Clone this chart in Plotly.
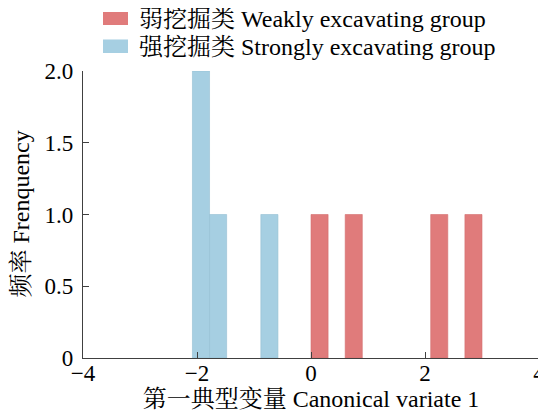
import plotly.graph_objects as go

# Histogram bins (centre, count) per group, bin width 0.3
bin_width = 0.3
weak_centers = [0.15, 0.75, 2.25, 2.85]
weak_counts = [1, 1, 1, 1]
strong_centers = [-1.93, -1.63, -0.73]
strong_counts = [2, 1, 1]

x_ticks = [-4, -2, 0, 2, 4]
x_tick_labels = ["−4", "−2", "0", "2", "4"]
y_ticks = [0, 0.5, 1.0, 1.5, 2.0]
y_tick_labels = ["0", "0.5", "1.0", "1.5", "2.0"]

weak_name = "弱挖掘类 Weakly excavating group"
strong_name = "强挖掘类 Strongly excavating group"
x_title = "第一典型变量 Canonical variate 1"
y_title = "频率 Frenquency"
weak_color = "#e07b7b"
strong_color = "#a6cfe2"

FONT = "Liberation Serif, Times New Roman, Noto Serif CJK SC, Noto Sans CJK SC, serif"

fig = go.Figure()
fig.add_trace(go.Bar(
    x=weak_centers, y=weak_counts, width=[bin_width] * len(weak_centers),
    name=weak_name,
    marker=dict(color=weak_color, line=dict(color="#d46e6e", width=0.6)),
))
fig.add_trace(go.Bar(
    x=strong_centers, y=strong_counts, width=[bin_width] * len(strong_centers),
    name=strong_name,
    marker=dict(color=strong_color, line=dict(color="#93bfd4", width=0.6)),
))

axis_common = dict(
    showline=True, linecolor="#404040", linewidth=1.2,
    ticks="inside", ticklen=6, tickwidth=1.2, tickcolor="#404040",
    showgrid=False, zeroline=False,
    tickfont=dict(family=FONT, size=23, color="black"),
)

# custom legend (patch + label) placed above the plot area
legend_items = [
    (weak_color, weak_name, 1.1603, 1.2056, 1.1800),
    (strong_color, strong_name, 1.0627, 1.1098, 1.0819),
]
shapes = []
annotations = []
for color, name, y0, y1, yt in legend_items:
    shapes.append(dict(type="rect", xref="paper", yref="paper",
                       x0=0.0439, x1=0.0987, y0=y0, y1=y1,
                       fillcolor=color, line=dict(width=0)))
    annotations.append(dict(xref="paper", yref="paper", x=0.118, y=yt,
                            xanchor="left", yanchor="middle", showarrow=False,
                            text=name, font=dict(family=FONT, size=24, color="black")))

# y axis title as rotated text
annotations.append(dict(xref="paper", yref="paper", x=-0.138, y=0.5,
                        xanchor="center", yanchor="middle", showarrow=False,
                        textangle=-90, text=y_title,
                        font=dict(family=FONT, size=24, color="black")))

# page body adds an 8px offset, so the figure is sized to the visible window
fig.update_layout(
    width=538, height=409,
    margin=dict(l=75, r=7, t=63, b=59, autoexpand=False),
    paper_bgcolor="white", plot_bgcolor="white",
    barmode="overlay",
    font=dict(family=FONT, size=23, color="black"),
    xaxis=dict(range=[-4, 4], tickvals=x_ticks, ticktext=x_tick_labels,
               automargin=False, ticklabelstandoff=-6,
               title=dict(text=x_title, standoff=5,
                          font=dict(family=FONT, size=24)),
               **axis_common),
    yaxis=dict(range=[0, 2.0], tickvals=y_ticks, ticktext=y_tick_labels,
               automargin=False, ticklabelstandoff=4,
               **axis_common),
    showlegend=False,
    shapes=shapes,
    annotations=annotations,
)

fig.write_html("out.html")
